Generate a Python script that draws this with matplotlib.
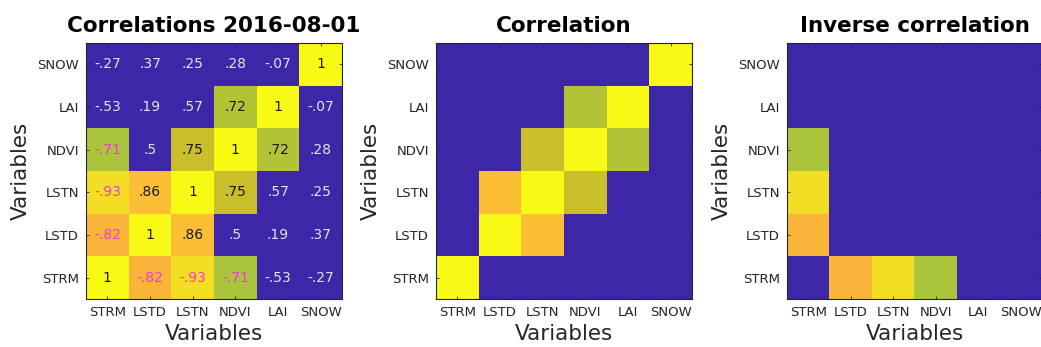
import numpy as np
import matplotlib
matplotlib.use("Agg")
import matplotlib.pyplot as plt
from matplotlib.colors import LinearSegmentedColormap

# variable names, bottom row first (y axis starts at STRM)
variables = ["STRM", "LSTD", "LSTN", "NDVI", "LAI", "SNOW"]

# correlation matrix, rows in the same order as variables
corr = np.array([
    [1.00, -0.82, -0.93, -0.71, -0.53, -0.27],   # STRM
    [-0.82, 1.00, 0.86, 0.50, 0.19, 0.37],       # LSTD
    [-0.93, 0.86, 1.00, 0.75, 0.57, 0.25],       # LSTN
    [-0.71, 0.50, 0.75, 1.00, 0.72, 0.28],       # NDVI
    [-0.53, 0.19, 0.57, 0.72, 1.00, -0.07],      # LAI
    [-0.27, 0.37, 0.25, 0.28, -0.07, 1.00],      # SNOW
])
date_label = "2016-08-01"
threshold = 0.7

# parula-like colormap
parula = LinearSegmentedColormap.from_list("parula_like", [
    (0.00, "#3E26A8"), (0.20, "#4653F0"), (0.40, "#1C96DC"),
    (0.55, "#1FB8A8"), (0.65, "#78C064"), (0.71, "#ABC53B"),
    (0.75, "#C7BF2B"), (0.82, "#F9B53B"), (0.86, "#FCBD36"),
    (0.93, "#F4DC26"), (1.00, "#F8F914"),
])

# what each panel shows
strong = np.abs(corr) >= threshold
full = np.where(strong, np.abs(corr), 0)
pos = np.where(strong & (corr > 0), corr, 0)
neg = np.where(strong & (corr < 0), -corr, 0)
np.fill_diagonal(neg, 0)

W, H = 1041, 347
fig = plt.figure(figsize=(W / 100, H / 100), dpi=100)

axes_px = [(86, 256), (436, 256), (787, 255)]
panels = [(full, "Correlations " + date_label), (pos, "Correlation"), (neg, "Inverse correlation")]
gray = "#262626"

for (left, width), (mat, title) in zip(axes_px, panels):
    ax = fig.add_axes([left / W, (H - 299) / H, width / W, 256 / H])
    ax.imshow(mat, cmap=parula, vmin=0, vmax=1, origin="lower",
              interpolation="nearest", aspect="auto")
    ax.set_xticks(range(len(variables)))
    ax.set_yticks(range(len(variables)))
    ax.set_xticklabels(variables, fontsize=9.5, color=gray)
    ax.set_yticklabels(variables, fontsize=9.5, color=gray)
    ax.tick_params(direction="in", top=True, right=True, length=2.5,
                   width=0.6, color=gray, pad=5)
    for s in ax.spines.values():
        s.set_color(gray)
        s.set_linewidth(0.8)
    ax.set_xlabel("Variables", fontsize=15.5, color=gray, labelpad=4)
    ax.set_ylabel("Variables", fontsize=15.5, color=gray, labelpad=5)
    ax.set_title(title, fontsize=15.5, fontweight="bold", pad=8)

# cell values in the first panel
ax0 = fig.axes[0]
for i in range(len(variables)):
    for j in range(len(variables)):
        v = corr[i, j]
        txt = ("%.2f" % v).rstrip("0").rstrip(".")
        txt = txt.replace("0.", ".")
        if strong[i, j] and v < 0:
            c = "#F23CD2"
        elif strong[i, j]:
            c = "#1A1A1A"
        else:
            c = "#E4E2F0"
        ax0.text(j, i, txt, ha="center", va="center", fontsize=10, color=c)

fig.savefig("out.png", dpi=100)
